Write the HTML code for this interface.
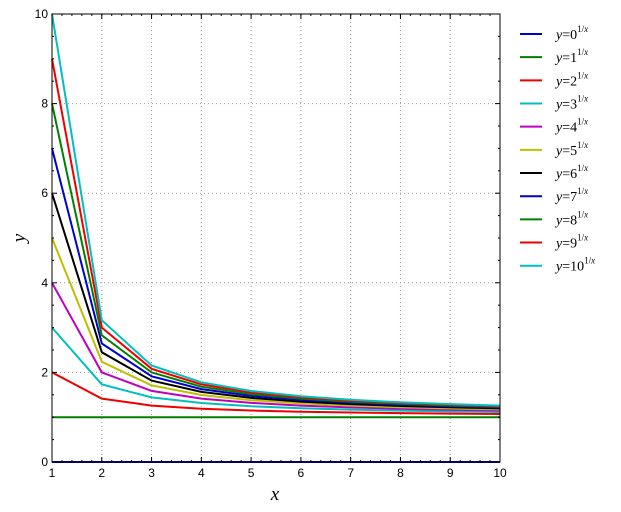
<!DOCTYPE html>
<html><head><meta charset="utf-8"><style>
body{margin:0;background:#fff;}
svg{display:block;font-family:"Liberation Sans","DejaVu Sans",sans-serif;}
</style></head><body>
<svg id="s" width="621" height="512" xmlns="http://www.w3.org/2000/svg"></svg>
<script>
const s=document.getElementById('s');
const L=52,T=14,R=500,B=462;
const X=v=>L+(v-1)*(R-L)/9, Y=v=>B-v*(B-T)/10;
let h='<rect width="621" height="512" fill="#fff"/>';
for(let i=2;i<=9;i++)h+=`<line x1="${X(i)}" y1="${T}" x2="${X(i)}" y2="${B}" stroke="#999" stroke-width="1" stroke-dasharray="1,3"/>`;
for(let i=2;i<=8;i+=2)h+=`<line x1="${L}" y1="${Y(i)}" x2="${R}" y2="${Y(i)}" stroke="#999" stroke-width="1" stroke-dasharray="1,3"/>`;
const cols=['#0000cc','#008000','#ee0000','#00bfbf','#bf00bf','#bfbf00','#000000','#0000cc','#008000','#ee0000','#00bfbf'];
for(let k=0;k<=10;k++){
 let p=[];for(let x=1;x<=10;x++)p.push(X(x).toFixed(1)+','+Y(Math.pow(k,1/x)).toFixed(1));
 h+=`<polyline points="${p.join(' ')}" fill="none" stroke="${cols[k]}" stroke-width="2"/>`;
}
h+=`<rect x="${L}" y="${T}" width="${R-L}" height="${B-T}" fill="none" stroke="#000" stroke-width="1"/>`;
for(let i=1;i<=10;i++){h+=`<line x1="${X(i)}" y1="${B}" x2="${X(i)}" y2="${B-5}" stroke="#000"/><line x1="${X(i)}" y1="${T}" x2="${X(i)}" y2="${T+5}" stroke="#000"/>`;
 h+=`<text x="${X(i)}" y="${B+15}" font-size="12" text-anchor="middle">${i}</text>`;}
for(let v=1.2;v<10;v+=0.2){h+=`<line x1="${X(v)}" y1="${B}" x2="${X(v)}" y2="${B-2}" stroke="#000"/><line x1="${X(v)}" y1="${T}" x2="${X(v)}" y2="${T+2}" stroke="#000"/>`;}
for(let i=0;i<=10;i+=2){h+=`<line x1="${L}" y1="${Y(i)}" x2="${L+5}" y2="${Y(i)}" stroke="#000"/><line x1="${R}" y1="${Y(i)}" x2="${R-5}" y2="${Y(i)}" stroke="#000"/>`;
 h+=`<text x="${L-4}" y="${Y(i)+4}" font-size="12" text-anchor="end">${i}</text>`;}
for(let v=0.5;v<10;v+=0.5){if(v%2==0)continue;h+=`<line x1="${L}" y1="${Y(v)}" x2="${L+2}" y2="${Y(v)}" stroke="#000"/><line x1="${R}" y1="${Y(v)}" x2="${R-2}" y2="${Y(v)}" stroke="#000"/>`;}
h+=`<text x="275" y="500" font-size="19" font-style="italic" font-family="Liberation Serif,serif" text-anchor="middle">x</text>`;
h+=`<text transform="translate(25,238) rotate(-90)" font-size="19" font-style="italic" font-family="Liberation Serif,serif" text-anchor="middle">y</text>`;
for(let k=0;k<=10;k++){const y=34+k*23.17;
 h+=`<line x1="520" y1="${y}" x2="542" y2="${y}" stroke="${cols[k]}" stroke-width="2"/>`;
 h+=`<text x="556" y="${y+5}" font-size="14" font-family="Liberation Serif,serif"><tspan font-style="italic">y</tspan>=${k}<tspan font-size="9" dy="-7">1/<tspan font-style="italic">x</tspan></tspan></text>`;}
s.innerHTML=h;
</script>
</body></html>
